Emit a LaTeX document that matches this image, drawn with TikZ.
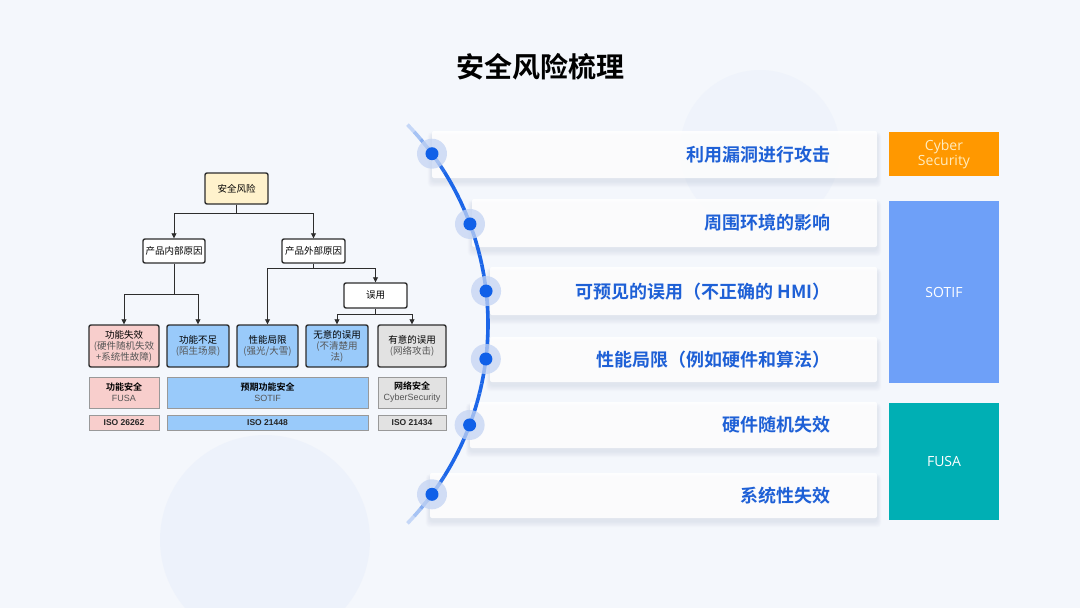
\documentclass[tikz,border=0pt]{standalone}
\usepackage{fontspec}
\setmainfont{Noto Sans CJK SC}[BoldFont={Noto Sans CJK SC Bold}]
\newfontfamily\latinfont{Open Sans}
\newfontfamily\arialfont{Liberation Sans}
\usetikzlibrary{arrows.meta,calc}
\definecolor{bg}{RGB}{244,247,252}
\definecolor{linedark}{RGB}{45,45,45}
\definecolor{rootfill}{RGB}{255,242,204}
\definecolor{pinkfill}{RGB}{248,206,204}
\definecolor{bluefill}{RGB}{153,202,250}
\definecolor{grayfill}{RGB}{226,226,226}
\definecolor{subgray}{RGB}{85,85,85}
\definecolor{arcblue}{RGB}{28,102,232}
\definecolor{dotblue}{RGB}{16,96,232}
\definecolor{halo}{RGB}{196,212,243}
\definecolor{textblue}{RGB}{30,96,214}
\definecolor{cyberor}{RGB}{255,152,0}
\definecolor{cybertxt}{RGB}{255,236,190}
\definecolor{sotifbl}{RGB}{110,160,248}
\definecolor{fusateal}{RGB}{0,175,180}
\definecolor{deco}{RGB}{230,237,250}
\definecolor{shadowc}{RGB}{170,180,205}
\begin{document}
\begin{tikzpicture}[x=1pt,y=-1pt,
  tbox/.style={draw=linedark,line width=1.4pt,rounded corners=2pt,inner sep=1pt,align=center,font=\fontsize{9.5}{11}\selectfont,text=black},
  sbox/.style={draw=gray!80,line width=0.6pt,inner sep=1pt,align=center,font=\fontsize{9}{11}\selectfont,text=black},
  ibox/.style={draw=gray!80,line width=0.6pt,inner sep=0pt,align=center,font=\arialfont\bfseries\fontsize{8.5}{10}\selectfont,text=black!85,minimum height=15pt},
  conn/.style={draw=linedark,line width=0.8pt,-{Triangle[length=5pt,width=5pt]}},
  ptext/.style={anchor=east,text=textblue,font=\bfseries\fontsize{18}{20}\selectfont},
  halonode/.style={circle,fill=halo,fill opacity=0.75,minimum size=30pt,inner sep=0pt},
  dotnode/.style={circle,fill=dotblue,minimum size=13pt,inner sep=0pt},
  catbox/.style={draw=none,inner sep=0pt,align=center,font=\latinfont\fontsize{14}{16}\selectfont,text=white}
]
\fill[bg] (0,0) rectangle (1080,608);
\useasboundingbox (0,0) rectangle (1080,608);
% faint decorative circles
\fill[deco,opacity=0.45] (265,540) circle[radius=105];
\fill[deco,opacity=0.35] (760,150) circle[radius=80];

% title
\node[font=\bfseries\fontsize{28}{32}\selectfont,text=black] (title) at (540,67) {安全风险梳理};

% ---------- left tree ----------
\node[tbox,fill=rootfill,minimum width=63pt,minimum height=31pt] (root) at (236.5,188.5) {安全风险};
\node[tbox,fill=white,minimum width=62pt,minimum height=24pt] (inner) at (174,251) {产品内部原因};
\node[tbox,fill=white,minimum width=63pt,minimum height=24pt] (outer) at (313.5,251) {产品外部原因};
\node[tbox,fill=white,minimum width=63pt,minimum height=25pt] (misuse) at (375.5,295.5) {误用};

\node[tbox,fill=pinkfill,minimum width=70pt,minimum height=42pt] (b1) at (124,346) {功能失效\\{\color{subgray}(硬件随机失效}\\{\color{subgray}+系统性故障)}};
\node[tbox,fill=bluefill,minimum width=62pt,minimum height=42pt] (b2) at (198,346) {功能不足\\{\color{subgray}(陌生场景)}};
\node[tbox,fill=bluefill,minimum width=61pt,minimum height=42pt] (b3) at (267.5,346) {性能局限\\{\color{subgray}(强光/大雪)}};
\node[tbox,fill=bluefill,minimum width=62pt,minimum height=42pt] (b4) at (337,346) {无意的误用\\{\color{subgray}(不清楚用}\\{\color{subgray}法)}};
\node[tbox,fill=grayfill,minimum width=68pt,minimum height=42pt] (b5) at (412,346) {有意的误用\\{\color{subgray}(网络攻击)}};

\node[sbox,fill=pinkfill,minimum width=70pt,minimum height=31pt] (s1) at (124,392.5) {\bfseries 功能安全\\{\arialfont\color{subgray}FUSA}};
\node[sbox,fill=bluefill,minimum width=201pt,minimum height=31pt] (s2) at (267.5,392.5) {\bfseries 预期功能安全\\{\arialfont\color{subgray}SOTIF}};
\node[sbox,fill=grayfill,minimum width=68pt,minimum height=31pt] (s3) at (412,392.5) {\bfseries 网络安全\\{\arialfont\color{subgray}CyberSecurity}};

\node[ibox,fill=pinkfill,minimum width=70pt] (i1) at (124,422.5) {ISO 26262};
\node[ibox,fill=bluefill,minimum width=201pt] (i2) at (267.5,422.5) {ISO 21448};
\node[ibox,fill=grayfill,minimum width=68pt] (i3) at (412,422.5) {ISO 21434};

\draw[conn] (root.south) -- ++(0,9) -| (inner.north);
\draw[conn] (root.south) -- ++(0,9) -| (outer.north);
\draw[conn] (inner.south) -- ++(0,31) -| (b1.north);
\draw[conn] (inner.south) -- ++(0,31) -| (b2.north);
\draw[conn] (outer.south) -- ++(0,5) -| (b3.north);
\draw[conn] (outer.south) -- ++(0,5) -| (misuse.north);
\draw[conn] (misuse.south) -- ++(0,6) -| (b4.north);
\draw[conn] (misuse.south) -- ++(0,6) -| (b5.north);

% ---------- right panels ----------
\foreach \xl/\yt/\yb in {432/131/178,472/199/247,490/267/315,490/337/382,470/402/448,430/473/518}{
  \foreach \s in {1,...,7}{
    \fill[shadowc,opacity=0.035,rounded corners=4pt] (\xl-\s*0.6,\yt+4-\s*0.4) rectangle (877+\s*0.6,\yb+3+\s*0.9);
  }
  \fill[white,opacity=0.88,rounded corners=2pt] (\xl,\yt) rectangle (877,\yb);
}

\node[ptext] (t1) at (834,154.5) {利用漏洞进行攻击};
\node[ptext] (t2) at (834,223) {周围环境的影响};
\node[ptext] (t3) at (834,291.5) {可预见的误用（不正确的 HMI）};
\node[ptext] (t4) at (834,359.5) {性能局限（例如硬件和算法）};
\node[ptext] (t5) at (834,425) {硬件随机失效};
\node[ptext] (t6) at (834,495.5) {系统性失效};

% arc
\foreach \a in {-44,-42,...,42}{
  \pgfmathsetmacro\op{min(1,(46-abs(\a+1))/14)}
  \draw[arcblue,line width=3.6pt,draw opacity=\op] ([shift={(\a:287)}]201,324) arc[start angle=\a,end angle=\a+2,radius=287];
}
% dots
\foreach \n/\a in {1/-36.4,2/-20.4,3/-6.6,4/7.0,5/20.6,6/36.4}{
  \node[halonode] (h\n) at ([shift={(\a:287)}]201,324) {};
  \node[dotnode] (d\n) at (h\n.center) {};
}

% ---------- category boxes ----------
\node[catbox,fill=cyberor,minimum width=110pt,minimum height=44pt,text=cybertxt,font=\latinfont\fontsize{14}{15}\selectfont] (cyber) at (944,154) {Cyber\\Security};
\node[catbox,fill=sotifbl,minimum width=110pt,minimum height=182pt] (sotif) at (944,292) {SOTIF};
\node[catbox,fill=fusateal,minimum width=110pt,minimum height=117pt] (fusa) at (944,461.5) {FUSA};
\end{tikzpicture}
\end{document}
